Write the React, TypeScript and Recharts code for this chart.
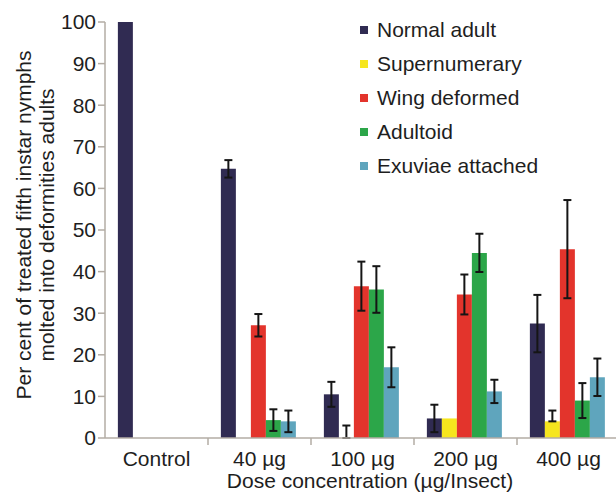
import React from "react"
import { Bar, BarChart, ErrorBar, XAxis, YAxis } from "recharts"

// Dose groups
const categories = ["Control", "40 µg", "100 µg", "200 µg", "400 µg"]

// Per cent values and their error bars
const normalAdult = [100, 64.7, 10.5, 4.7, 27.5]
const normalAdultErr = [0, 2.1, 3, 3.3, 6.9]
// 100 µg is ~0 but still carries an upper error bar, so keep a hair above zero
const supernumerary = [0, 0, 0.001, 4.7, 4.0]
const supernumeraryErr: (number | number[])[] = [0, 0, [0, 3], 0, [0, 2.6]]
const wingDeformed = [0, 27.1, 36.5, 34.5, 45.4]
const wingDeformedErr = [0, 2.7, 5.9, 4.8, 11.8]
const adultoid = [0, 4.3, 35.7, 44.5, 9.0]
const adultoidErr = [0, 2.6, 5.6, 4.6, 4.2]
const exuviae = [0, 4.0, 17.0, 11.2, 14.6]
const exuviaeErr = [0, 2.6, 4.8, 2.8, 4.5]

const yTicks = [0, 10, 20, 30, 40, 50, 60, 70, 80, 90, 100]

const series = [
  { key: "normal", name: "Normal adult", color: "#302b52" },
  { key: "super", name: "Supernumerary", color: "#f6e61e" },
  { key: "wing", name: "Wing deformed", color: "#e3342c" },
  { key: "adultoid", name: "Adultoid", color: "#2ca649" },
  { key: "exuviae", name: "Exuviae attached", color: "#5fa5bd" },
]

const data = categories.map((name, i) => ({
  name,
  normal: normalAdult[i],
  normalErr: normalAdultErr[i],
  super: supernumerary[i],
  superErr: supernumeraryErr[i],
  wing: wingDeformed[i],
  wingErr: wingDeformedErr[i],
  adultoid: adultoid[i],
  adultoidErr: adultoidErr[i],
  exuviae: exuviae[i],
  exuviaeErr: exuviaeErr[i],
}))

const FONT = "'Liberation Sans', Arial, sans-serif"
const AXIS = "#b3aca4"
const TEXT = "#1e1e1e"

const CHART_W = 620
const Y_AXIS_W = 105
const BAND = (CHART_W - Y_AXIS_W) / categories.length

const XTick = (props: any) => {
  const { x, y, payload, index } = props
  return (
    <g>
      {index > 0 && <line x1={x - BAND / 2} y1={y} x2={x - BAND / 2} y2={y + 7} stroke={AXIS} strokeWidth={1.5} />}
      <text x={x} y={y + 28} textAnchor="middle" fill={TEXT} fontSize={21} fontFamily={FONT}>
        {payload.value}
      </text>
    </g>
  )
}

const LegendBox = () => (
  <div style={{ position: "absolute", left: 360, top: 13, fontFamily: FONT, fontSize: 21, color: TEXT }}>
    {series.map((s) => (
      <div key={s.key} style={{ height: 34, display: "flex", alignItems: "center" }}>
        <span style={{ width: 8, height: 8, background: s.color, display: "inline-block", marginRight: 9 }} />
        <span>{s.name}</span>
      </div>
    ))}
  </div>
)

export default function App() {
  return (
    <div style={{ position: "absolute", left: 0, top: 0, width: 616, height: 492, overflow: "hidden", background: "#fff" }}>
      <BarChart
        width={CHART_W}
        height={492}
        data={data}
        margin={{ top: 22, right: 0, left: 0, bottom: 0 }}
        barCategoryGap="12.5%"
        barGap={0}
      >
        <XAxis
          dataKey="name"
          height={54}
          tickSize={0}
          tickMargin={0}
          tickLine={false}
          axisLine={{ stroke: AXIS, strokeWidth: 1.5 }}
          tick={<XTick />}
          interval={0}
          label={{
            content: () => (
              <text x={370} y={488} textAnchor="middle" fill={TEXT} fontSize={21} fontFamily={FONT}>
                Dose concentration (µg/Insect)
              </text>
            ),
          }}
        />
        <YAxis
          width={Y_AXIS_W}
          domain={[0, 100]}
          ticks={yTicks}
          interval={0}
          tickSize={7}
          tickMargin={2}
          axisLine={{ stroke: AXIS, strokeWidth: 1.5 }}
          tickLine={{ stroke: AXIS, strokeWidth: 1.5 }}
          tick={{ fill: TEXT, fontSize: 21, fontFamily: FONT }}
          label={{
            content: () => (
              <g fill={TEXT} fontSize={21} fontFamily={FONT}>
                <text x={31} y={225} textAnchor="middle" transform="rotate(-90, 31, 225)">
                  Per cent of treated fifth instar nymphs
                </text>
                <text x={54} y={225} textAnchor="middle" transform="rotate(-90, 54, 225)">
                  molted into deformities adults
                </text>
              </g>
            ),
          }}
        />
        {series.map((s) => (
          <Bar key={s.key} dataKey={s.key} name={s.name} fill={s.color} isAnimationActive={false}>
            <ErrorBar dataKey={`${s.key}Err`} width={4} stroke="#151515" strokeWidth={2} direction="y" />
          </Bar>
        ))}
      </BarChart>
      <LegendBox />
    </div>
  )
}
